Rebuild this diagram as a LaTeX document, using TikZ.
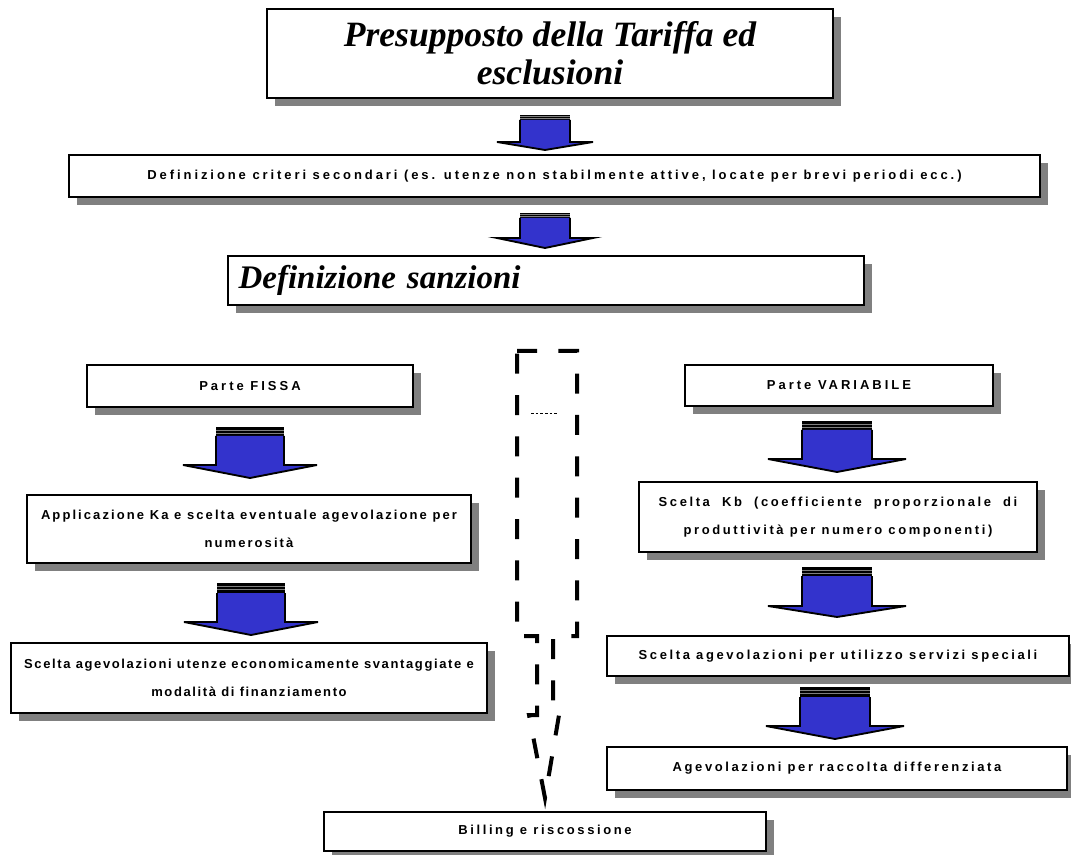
\documentclass[tikz,border=0pt]{standalone}
\usepackage{fontspec}
\usetikzlibrary{shadows}
\newfontfamily\boxfont[LetterSpace=20]{Liberation Sans}
\newfontfamily\boxfontwide[LetterSpace=23]{Liberation Sans}
\newfontfamily\boxfontcrit[LetterSpace=22.5]{Liberation Sans}
\newfontfamily\boxfontappl[LetterSpace=16]{Liberation Sans}
\newfontfamily\boxfontsvant[LetterSpace=12.5]{Liberation Sans}
\newfontfamily\titlefont{Liberation Serif}
\definecolor{arrowblue}{RGB}{51,51,204}
\definecolor{shadowgray}{RGB}{128,128,128}
% #1 centre x, #2 bar half width, #3 head half width, #4 bar top, #5 bar bottom, #6 shaft bottom, #7 tip
\newcommand\blkarrow[7]{%
  \fill[black] (#1-#2,#4) rectangle (#1+#2,#5);
  \draw[shadowgray, line width=0.3pt] (#1-#2,{#4+(#5-#4)/3}) -- (#1+#2,{#4+(#5-#4)/3});
  \draw[shadowgray, line width=0.3pt] (#1-#2,{#4+2*(#5-#4)/3}) -- (#1+#2,{#4+2*(#5-#4)/3});
  \filldraw[fill=arrowblue, draw=black, line width=1.4pt, line join=miter]
    (#1-#2,#5) -- (#1-#2,#6) -- (#1-#3,#6) -- (#1,#7) -- (#1+#3,#6) -- (#1+#2,#6) -- (#1+#2,#5);
}
\begin{document}
\begin{tikzpicture}[x=0.75pt,y=-0.75pt,
  box/.style={draw=black, line width=1.3pt, fill=white, inner sep=0pt, align=center,
    drop shadow={shadow xshift=6pt, shadow yshift=-6pt, fill=shadowgray, opacity=1}},
  boxsize/.style n args={2}{minimum width=#1*0.75pt, minimum height=#2*0.75pt},
  lbl/.style={font=\boxfont\bfseries\fontsize{9.75}{21}\selectfont},
  lblwide/.style={font=\boxfontwide\bfseries\fontsize{9.75}{21}\selectfont},
  lblcrit/.style={font=\boxfontcrit\bfseries\fontsize{9.75}{21}\selectfont},
  lblappl/.style={font=\boxfontappl\bfseries\fontsize{9.75}{21}\selectfont},
  lblsvant/.style={font=\boxfontsvant\bfseries\fontsize{9.75}{21}\selectfont},
  ttl/.style={font=\titlefont\bfseries\itshape\fontsize{26.7}{28.5}\selectfont},
  ttlb/.style={font=\titlefont\bfseries\itshape\fontsize{24.7}{28}\selectfont},
  dashedarrow/.style={line width=3pt, dash pattern=on 15pt off 16pt, line join=miter}
]
\useasboundingbox (0,0) rectangle (1071,855);

% boxes
\node[box, boxsize={566}{89}, ttl] (top) at (550,53.5) {Presupposto della Tariffa ed\\esclusioni};
\node[box, boxsize={971}{42}, lblcrit] (crit) at (554.5,176) {Definizione criteri secondari (es. utenze non stabilmente attive, locate per brevi periodi ecc.)};
\node[box, minimum height=36.75pt, inner xsep=8pt, text width=461pt, align=left, ttlb] (sanz) at (546,280.5) {Definizione sanzioni};

\node[box, boxsize={326}{42}, lblwide] (fissa) at (250,386) {Parte FISSA};
\node[box, boxsize={444}{68}, lblappl] (appl) at (249,529) {Applicazione Ka e scelta eventuale agevolazione per\\numerosità};
\node[box, boxsize={476}{70}, lblsvant] (svant) at (249,678) {Scelta agevolazioni utenze economicamente svantaggiate e\\modalità di finanziamento};

\node[box, boxsize={308}{41}, lblwide] (var) at (839,385.5) {Parte VARIABILE};
\node[box, boxsize={398}{70}, lbl] (kb) at (838,517) {\makebox[269pt][s]{Scelta Kb (coefficiente proporzionale di}\\produttività per numero componenti)};
\node[box, boxsize={462}{40}, lbl] (serv) at (838,656) {Scelta agevolazioni per utilizzo servizi speciali};
\node[box, boxsize={460}{43}, lbl] (racc) at (837,768.5) {Agevolazioni per raccolta differenziata};

\node[box, boxsize={442}{39}, lbl] (bill) at (545,831.5) {Billing e riscossione};

% block arrows
\blkarrow{545}{25}{48}{115}{120}{142}{150}
\blkarrow{545}{25}{48}{213}{218}{238}{248}
\blkarrow{250}{34}{67}{427}{436}{465}{478}
\blkarrow{251}{34}{67}{583}{593}{622}{635}
\blkarrow{837}{35}{69}{421}{430}{459}{472}
\blkarrow{837}{35}{69}{567}{576}{606}{617}
\blkarrow{835}{35}{69}{687}{697}{726}{739}

% dashed block arrow towards billing
\draw[dashedarrow] (517,351) -- (577,351) -- (577,636) -- (553,636) -- (553,715) -- (559,715)
  -- (545,798) -- (529,715) -- (537,715) -- (537,636) -- (517,636) -- cycle;
\draw[line width=0.6pt, dash pattern=on 2pt off 1.5pt] (531,413) -- (557,413);
\end{tikzpicture}
\end{document}
